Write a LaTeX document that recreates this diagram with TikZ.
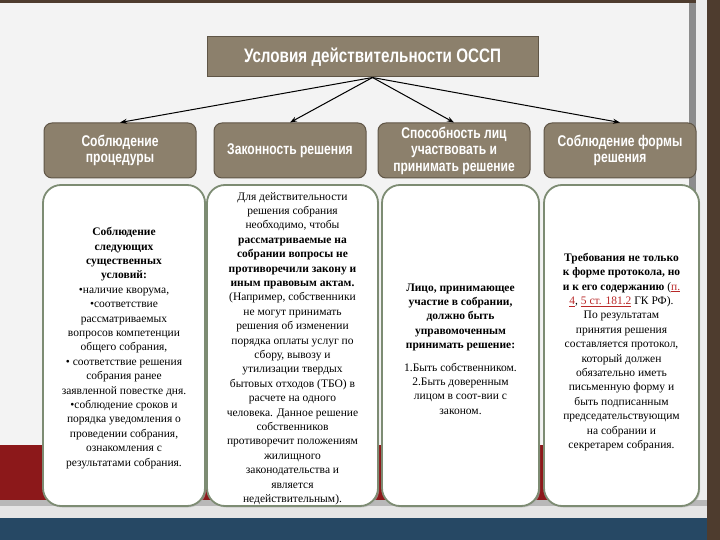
\documentclass[tikz,border=0pt]{standalone}
\usepackage{fontspec}
\setmainfont{Liberation Serif}
\newfontfamily\hdrfont{Liberation Sans}[FakeStretch=0.78]
\usetikzlibrary{arrows.meta,shadows}
\definecolor{taupe}{RGB}{140,128,108}
\definecolor{taupeborder}{RGB}{95,85,70}
\definecolor{boxborder}{RGB}{125,140,115}
\definecolor{linkred}{RGB}{185,40,40}
\definecolor{bandred}{RGB}{140,24,26}
\definecolor{slidewhite}{RGB}{243,243,243}
\definecolor{darkbrown}{RGB}{78,60,46}
\definecolor{darkblue}{RGB}{38,72,100}
\newcommand{\lnk}[1]{\textcolor{linkred}{\underline{#1}}}
\begin{document}
\begin{tikzpicture}[x=1pt,y=-1pt,
  hdrbox/.style={draw=taupeborder, line width=1pt, fill=taupe, rounded corners=8pt, text=white,
    font=\hdrfont\bfseries\fontsize{15.5}{16.5}\selectfont, align=center,
    minimum width=152pt, minimum height=55pt, inner sep=1pt},
  titlebox/.style={draw=taupeborder, line width=1pt, fill=taupe, text=white,
    font=\hdrfont\bfseries\fontsize{19.5}{22}\selectfont, minimum width=331pt, minimum height=40pt},
  bodybox/.style={draw=boxborder, line width=1.8pt, fill=white, rounded corners=18pt,
    minimum height=321pt, inner sep=0pt,
    drop shadow={shadow xshift=1.2pt, shadow yshift=-1.5pt, fill=black!30, opacity=0.6}},
  bodytext/.style={align=center, inner sep=0pt, font=\fontsize{11.5}{14.4}\selectfont},
  arr/.style={-{Stealth[length=7pt,width=5pt]}, line width=1pt, black},
]
\useasboundingbox (0,0) rectangle (720,540);
% background
\fill[darkbrown] (0,0) rectangle (720,540);
\fill[darkblue] (0,518) rectangle (707,540);
\fill[slidewhite] (0,3) rectangle (689,516);
\fill[black!45] (689,3) rectangle (696,516);
\fill[black!7] (696,0) rectangle (707,516);
\fill[bandred] (0,445) rectangle (689,500);
\fill[black!28] (0,500) rectangle (707,506);
\fill[black!10] (0,506) rectangle (707,518);

% body boxes
\node[bodybox, minimum width=162pt] (b1) at (124,345.5) {};
\node[bodybox, minimum width=171pt] (b2) at (292.5,345.5) {};
\node[bodybox, minimum width=157pt] (b3) at (460.5,345.5) {};
\node[bodybox, minimum width=155pt] (b4) at (621.5,345.5) {};

\node[bodytext] (b1t) at (124,348) {%
\textbf{Соблюдение}\\\textbf{следующих}\\\textbf{существенных}\\\textbf{условий:}\\
•наличие кворума,\\•соответствие\\рассматриваемых\\вопросов компетенции\\общего собрания,\\
• соответствие решения\\собрания ранее\\заявленной повестке дня.\\•соблюдение сроков и\\
порядка уведомления о\\проведении собрания,\\ознакомления с\\результатами собрания.};
\node[bodytext] (b2t) at (292.5,348.5) {%
Для действительности\\решения собрания\\необходимо, чтобы\\\textbf{рассматриваемые на}\\
\textbf{собрании вопросы не}\\\textbf{противоречили закону и}\\\textbf{иным правовым актам.}\\
(Например, собственники\\не могут принимать\\решения об изменении\\порядка оплаты услуг по\\
сбору, вывозу и\\утилизации твердых\\бытовых отходов (ТБО) в\\расчете на одного\\
человека. Данное решение\\собственников\\противоречит положениям\\жилищного\\
законодательства и\\является\\недействительным).};
\node[bodytext] (b3t) at (460.5,349) {%
\textbf{Лицо, принимающее}\\\textbf{участие в собрании,}\\\textbf{должно быть}\\
\textbf{управомоченным}\\\textbf{принимать решение:}\\[8pt]
1.Быть собственником.\\2.Быть доверенным\\лицом в соот-вии с\\законом.};
\node[bodytext] (b4t) at (621.5,352) {%
\textbf{Требования не только}\\\textbf{к форме протокола, но}\\
\textbf{и к его содержанию} (\lnk{п.}\\\lnk{4}, \lnk{5 ст. 181.2} ГК РФ).\\
По результатам\\принятия решения\\составляется протокол,\\который должен\\
обязательно иметь\\письменную форму и\\быть подписанным\\председательствующим\\
на собрании и\\секретарем собрания.};

% headers
\node[hdrbox] (h1) at (120,150.5) {Соблюдение\\процедуры};
\node[hdrbox] (h2) at (290,150.5) {Законность решения};
\node[hdrbox] (h3) at (454,150.5) {Способность лиц\\участвовать и\\принимать решение};
\node[hdrbox] (h4) at (620,150.5) {Соблюдение формы\\решения};

% title
\node[titlebox] (t) at (372.5,57) {Условия действительности ОССП};

% arrows
\draw[arr] (t.south) -- (h1.north);
\draw[arr] (t.south) -- (h2.north);
\draw[arr] (t.south) -- (h3.north);
\draw[arr] (t.south) -- (h4.north);
\end{tikzpicture}
\end{document}
